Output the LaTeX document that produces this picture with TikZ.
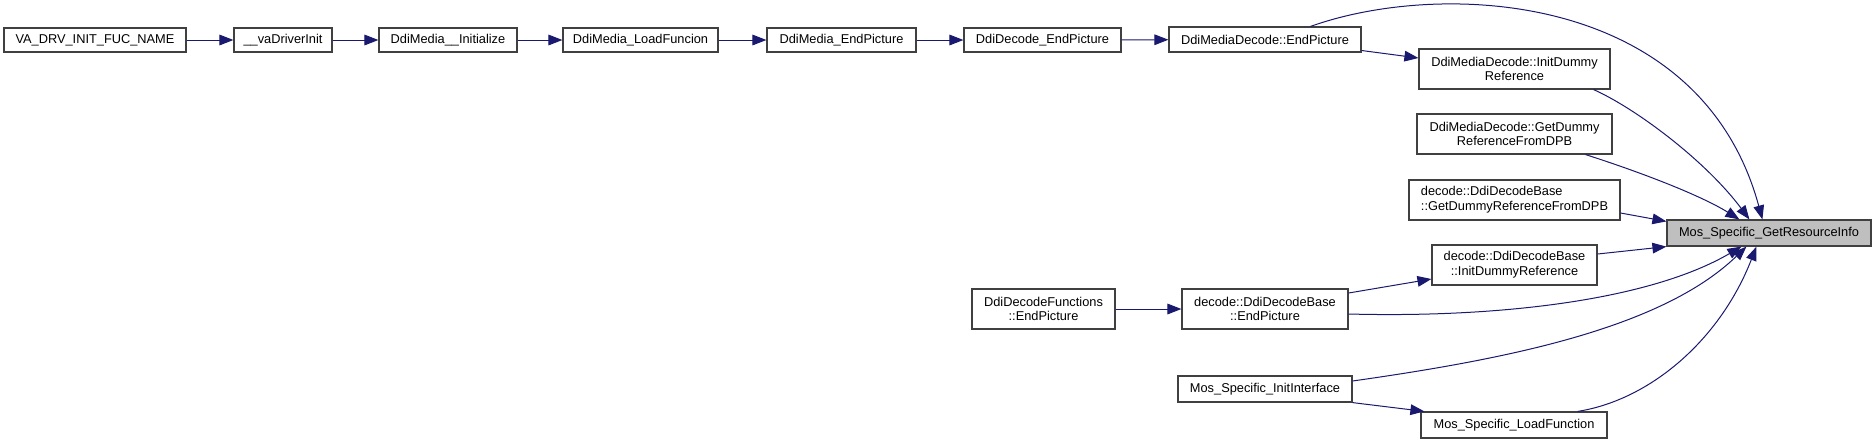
\documentclass[tikz,border=0pt]{standalone}
\usepackage{fontspec}
\setmainfont{Liberation Sans}
\usetikzlibrary{arrows.meta}
\definecolor{edgecol}{HTML}{191970}
\definecolor{boxline}{HTML}{404040}
\definecolor{hilite}{HTML}{BFBFBF}
\begin{document}
\begin{tikzpicture}[x=0.75pt,y=-0.75pt,
  fn/.style={draw=boxline, line width=0.9pt, fill=white, inner sep=0pt,
    font=\fontsize{9.6}{11}\selectfont, align=center, minimum height=18.75pt},
  fntwo/.style={fn, minimum height=30pt},
  call/.style={draw=edgecol, line width=0.75pt, -{Triangle[length=10.5pt,width=8pt]}}]
\useasboundingbox (0,0) rectangle (1876,444);

% nodes
\node[fn, minimum width=136.5pt, minimum height=18pt] (va) at (95,40) {VA\_DRV\_INIT\_FUC\_NAME};
\node[fn, minimum width=73.5pt, minimum height=18pt] (vadrv) at (283,40) {\_\_vaDriverInit};
\node[fn, minimum width=103.5pt, minimum height=18pt] (init) at (448,40) {DdiMedia\_\_Initialize};
\node[fn, minimum width=116.25pt, minimum height=18pt] (load) at (640.5,40) {DdiMedia\_LoadFuncion};
\node[fn, minimum width=111.75pt, minimum height=18pt] (mep) at (841.5,40) {DdiMedia\_EndPicture};
\node[fn, minimum width=117.75pt, minimum height=18pt] (dep) at (1042.5,40) {DdiDecode\_EndPicture};
\node[fn, minimum width=144pt] (mdep) at (1265,39.5) {DdiMediaDecode::EndPicture};
\node[fntwo, minimum width=143.25pt] (mdinit) at (1514.5,69) {DdiMediaDecode::InitDummy\\Reference};
\node[fntwo, minimum width=146.25pt] (mdget) at (1514.5,134) {DdiMediaDecode::GetDummy\\ReferenceFromDPB};
\node[fntwo, minimum width=158.25pt, align=left] (dbget) at (1514.5,200) {decode::DdiDecodeBase\\::GetDummyReferenceFromDPB};
\node[fn, fill=hilite, minimum width=153pt, minimum height=19.5pt] (target) at (1769,233) {Mos\_Specific\_GetResourceInfo};
\node[fntwo, minimum width=123.75pt] (dbinit) at (1514.5,265) {decode::DdiDecodeBase\\::InitDummyReference};
\node[fntwo, minimum width=107.25pt] (dfep) at (1043.5,309) {DdiDecodeFunctions\\::EndPicture};
\node[fntwo, minimum width=124.5pt] (dbep) at (1265,309) {decode::DdiDecodeBase\\::EndPicture};
\node[fn, minimum width=130.5pt, minimum height=19.5pt] (initif) at (1265,389) {Mos\_Specific\_InitInterface};
\node[fn, minimum width=139.5pt, minimum height=19.5pt] (loadfn) at (1514,425) {Mos\_Specific\_LoadFunction};

% edges
\draw[call] (va) -- (vadrv);
\draw[call] (vadrv) -- (init);
\draw[call] (init) -- (load);
\draw[call] (load) -- (mep);
\draw[call] (mep) -- (dep);
\draw[call] (dep) -- (mdep);
\draw[call] ([yshift=-8.25pt]mdep.east) -- ([yshift=8.25pt]mdinit.west);
\draw[call] ([xshift=-38.25pt]mdep.north east) .. controls (1440,-20) and (1700,-10) .. ([xshift=72pt]target.north west);
\draw[call] ([xshift=-12.75pt]mdinit.south east) .. controls (1635,108) and (1705,160) .. ([xshift=62.25pt]target.north west);
\draw[call] ([xshift=-20.25pt]mdget.south east) .. controls (1640,172) and (1700,195) .. ([xshift=54.75pt]target.north west);
\draw[call] ([yshift=-9.75pt]dbget.east) -- ([yshift=-1.5pt]target.north west);
\draw[call] ([yshift=8.25pt]dbinit.east) -- (target.south west);
\draw[call] (dfep) -- (dbep);
\draw[call] ([yshift=12pt]dbep.east) -- ([yshift=-10.5pt]dbinit.west);
\draw[call] ([yshift=-3.75pt]dbep.east) .. controls (1500,318) and (1650,300) .. ([xshift=56.25pt]target.south west);
\draw[call] ([yshift=6pt]initif.east) .. controls (1500,360) and (1660,330) .. ([xshift=60pt]target.south west);
\draw[call] (initif.south east) -- ([xshift=3pt]loadfn.north west);
\draw[call] ([xshift=-22.5pt]loadfn.north east) .. controls (1650,400) and (1720,340) .. ([xshift=67.5pt]target.south west);
\end{tikzpicture}
\end{document}
